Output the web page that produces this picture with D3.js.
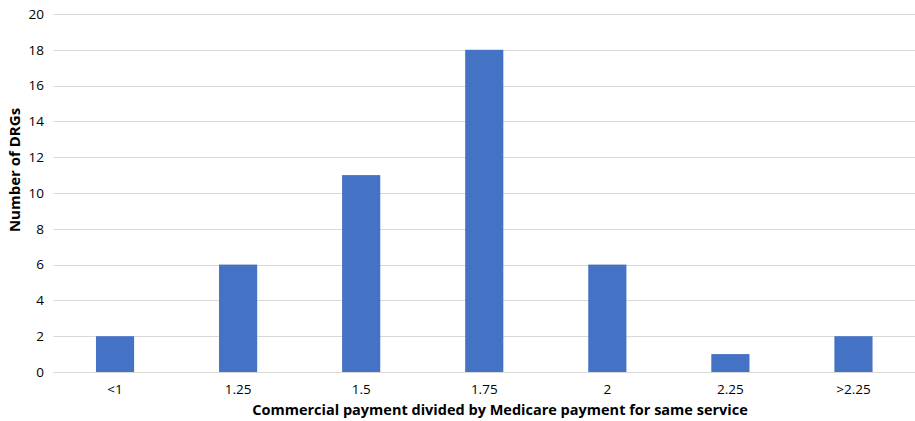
<!DOCTYPE html>
<html>
<head>
<meta charset="utf-8">
<script src="https://cdn.jsdelivr.net/npm/d3@7"></script>
<style>
  body { margin: 0; background: #fff; }
  text { font-family: "Open Sans", "Liberation Sans", sans-serif; fill: #000; }
</style>
</head>
<body>
<script>
var categories = ["<1", "1.25", "1.5", "1.75", "2", "2.25", ">2.25"];
var counts = [2, 6, 11, 18, 6, 1, 2];
var yTicks = [0, 2, 4, 6, 8, 10, 12, 14, 16, 18, 20];

var width = 915, height = 421;
var margin = {top: 14, right: 0, bottom: 49, left: 53.5};

var svg = d3.select("body").append("svg")
    .attr("width", width)
    .attr("height", height);

var x = d3.scaleBand()
    .domain(categories)
    .range([margin.left, width - margin.right])
    .paddingInner(0.69)
    .paddingOuter(0.345);

var y = d3.scaleLinear()
    .domain([0, 20])
    .range([height - margin.bottom, margin.top]);

// gridlines
svg.append("g")
    .selectAll("line")
    .data(yTicks)
    .enter().append("line")
    .attr("x1", margin.left)
    .attr("x2", width - margin.right)
    .attr("y1", function(d) { return Math.round(y(d)) + 0.5; })
    .attr("y2", function(d) { return Math.round(y(d)) + 0.5; })
    .attr("stroke", "#d9d9d9")
    .attr("stroke-width", 1);

// y tick labels
svg.append("g")
    .selectAll("text")
    .data(yTicks)
    .enter().append("text")
    .attr("x", 44)
    .attr("y", function(d) { return y(d); })
    .attr("dy", "0.35em")
    .attr("text-anchor", "end")
    .style("font-size", "13.5px")
    .text(function(d) { return d; });

// bars
svg.append("g")
    .selectAll("rect")
    .data(counts)
    .enter().append("rect")
    .attr("x", function(d, i) { return x(categories[i]); })
    .attr("width", x.bandwidth())
    .attr("y", function(d) { return y(d); })
    .attr("height", function(d) { return y(0) - y(d); })
    .attr("fill", "#4472c4");

// x axis line on top of bars
svg.append("line")
    .attr("x1", margin.left)
    .attr("x2", width - margin.right)
    .attr("y1", Math.round(y(0)) + 0.5)
    .attr("y2", Math.round(y(0)) + 0.5)
    .attr("stroke", "#d9d9d9");

// x tick labels
svg.append("g")
    .selectAll("text")
    .data(categories)
    .enter().append("text")
    .attr("x", function(d) { return x(d) + x.bandwidth() / 2; })
    .attr("y", y(0) + 17)
    .attr("dy", "0.35em")
    .attr("text-anchor", "middle")
    .style("font-size", "13.5px")
    .text(function(d) { return d; });

// axis titles
svg.append("text")
    .attr("x", 500)
    .attr("y", 410)
    .attr("dy", "0.35em")
    .attr("text-anchor", "middle")
    .style("font-size", "14.5px")
    .style("font-weight", "bold")
    .text("Commercial payment divided by Medicare payment for same service");

svg.append("text")
    .attr("transform", "translate(15,170) rotate(-90)")
    .attr("dy", "0.35em")
    .attr("text-anchor", "middle")
    .style("font-size", "15px")
    .style("font-weight", "bold")
    .text("Number of DRGs");
</script>
</body>
</html>
